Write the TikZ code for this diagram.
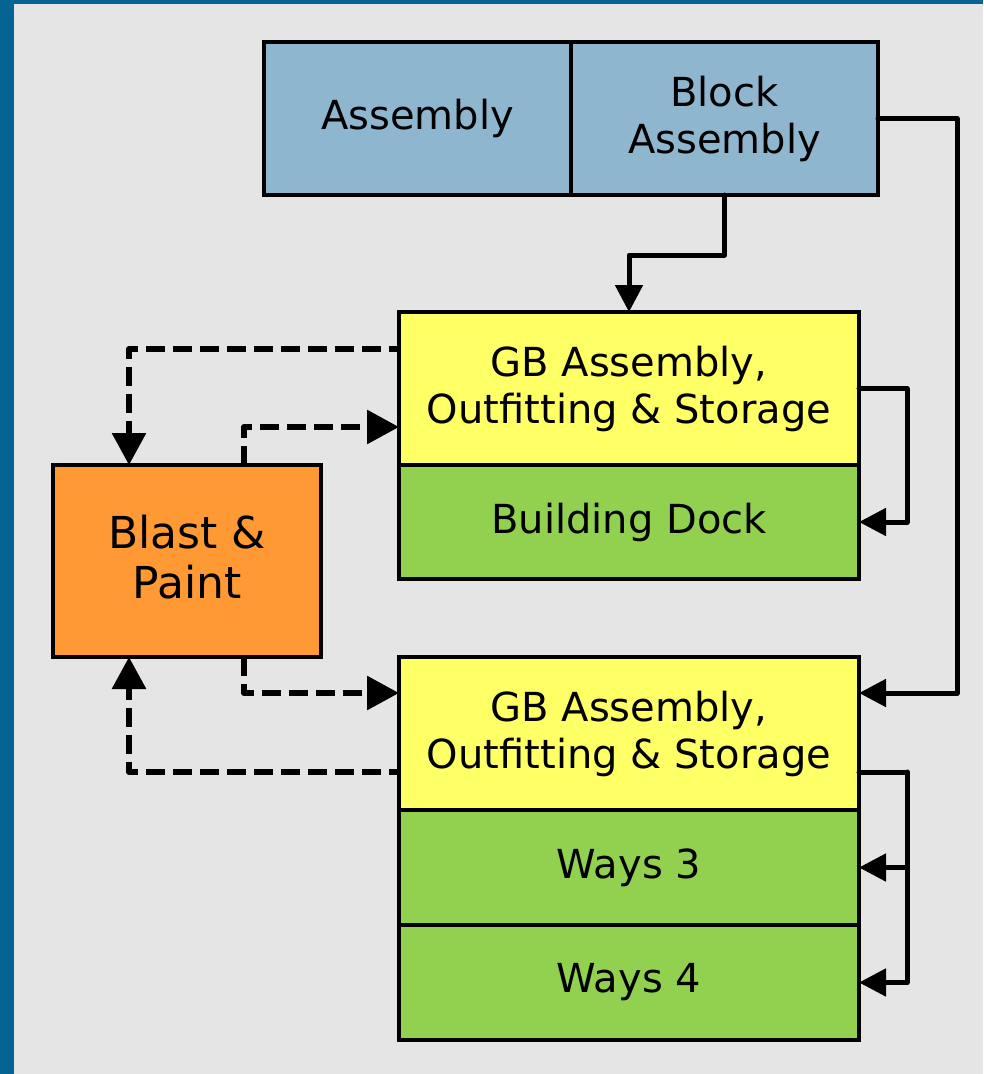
\documentclass[tikz,border=0pt]{standalone}
\usepackage{fontspec}
\setmainfont{DejaVu Sans}
\usetikzlibrary{arrows.meta,calc}
\definecolor{bgray}{HTML}{E5E5E5}
\definecolor{bstrip}{HTML}{066494}
\definecolor{topblue}{HTML}{8EB6CE}
\definecolor{gbyellow}{HTML}{FFFF66}
\definecolor{dockgreen}{HTML}{92D050}
\definecolor{blastorange}{HTML}{FF9933}
\tikzset{
  box/.style={draw=black, line width=3.5pt, rectangle, inner sep=0pt, outer sep=0pt,
    minimum width=460pt, align=center, font=\fontsize{40}{47}\selectfont},
  conn/.style={draw=black, line width=5pt, line join=round, line cap=round,
    -{Triangle[length=27pt,width=27pt]}},
  dconn/.style={draw=black, line width=6pt, line join=round, line cap=butt,
    dash pattern=on 19pt off 8pt, -{Triangle[length=32pt,width=33pt]}}
}
\begin{document}
\begin{tikzpicture}[x=1pt,y=-1pt]
\fill[bgray] (0,0) rectangle (983,1074);
\fill[bstrip] (0,0) rectangle (14,1074);
\fill[bstrip] (0,0) rectangle (983,4);
\useasboundingbox (0,0) rectangle (983,1074);

\node[box, fill=topblue, minimum width=307pt, minimum height=153pt] (asm) at (417.5,118.5) {Assembly};
\node[box, fill=topblue, minimum width=307pt, minimum height=153pt] (blockasm) at (724.5,118.5) {Block\\Assembly};

\node[box, fill=gbyellow, minimum height=153pt] (gb1) at (629,388.5) {GB Assembly,\\Outfitting \& Storage};
\node[box, fill=dockgreen, minimum height=114pt] (dock) at (629,522) {Building Dock};

\node[box, fill=blastorange, minimum width=268pt, minimum height=192pt,
  font=\fontsize{44}{50}\selectfont] (blast) at (187,561) {Blast \&\\Paint\vphantom{g}};

\node[box, fill=gbyellow, minimum height=153pt] (gb2) at (629,733.5) {GB Assembly,\\Outfitting \& Storage};
\node[box, fill=dockgreen, minimum height=115pt] (ways3) at (629,867.5) {Ways 3};
\node[box, fill=dockgreen, minimum height=115pt] (ways4) at (629,982.5) {Ways 4};

% solid connectors
\draw[conn] (blockasm.south) -- ++(0,60) -| (gb1.north);
\draw[conn] (blockasm.east) -- ++(79,0) |- ($(gb2.north east)+(0,36)$);
\draw[conn] (gb1.east) -- ++(48,0) |- (dock.east);
\coordinate (gbr) at ($(gb2.south east)+(0,-38)$);
\coordinate (gbx) at ($(gbr)+(48,0)$);
\draw[conn] (gbr) -- (gbx) |- (ways3.east);
\draw[conn] (gbx) |- (ways4.east);

% dashed connectors
\draw[dconn, dash phase=9pt] ($(gb1.north west)+(0,37)$) -| ($(blast.north west)+(76,0)$);
\draw[dconn] ($(blast.north west)+(191,0)$) |- ($(gb1.north west)+(0,115)$);
\draw[dconn] ($(blast.south west)+(191,0)$) |- ($(gb2.north west)+(0,36)$);
\draw[dconn, dash phase=9pt] ($(gb2.north west)+(0,115)$) -| ($(blast.south west)+(76,0)$);
\end{tikzpicture}
\end{document}
